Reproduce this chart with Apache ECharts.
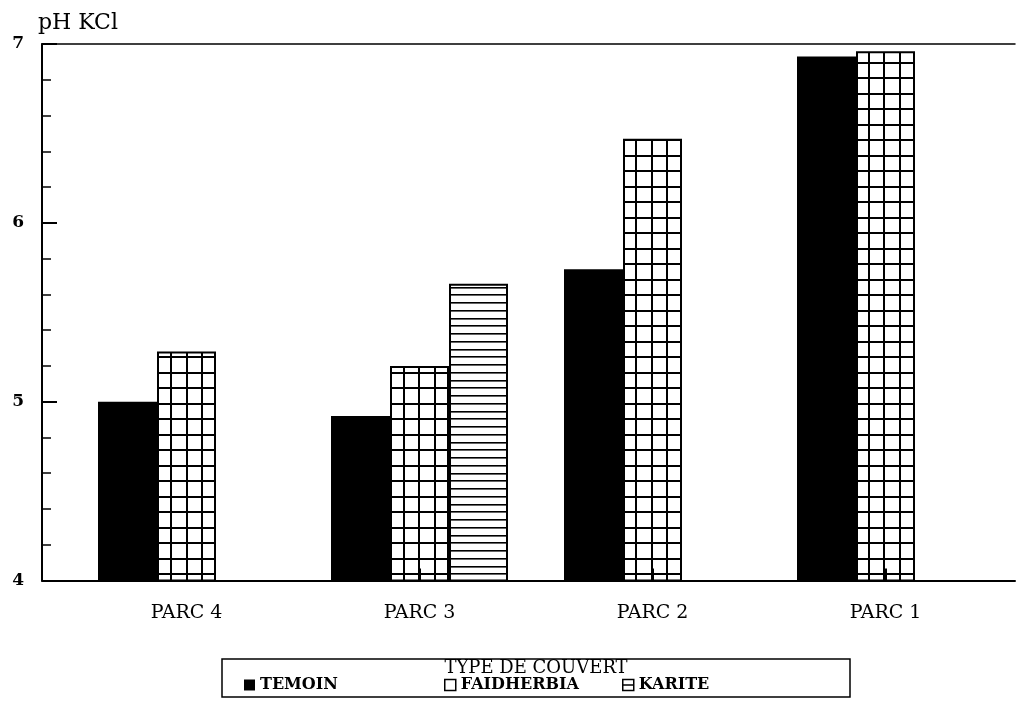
<!DOCTYPE html>
<html><head><meta charset="utf-8">
<script src="https://cdn.jsdelivr.net/npm/echarts@6/dist/echarts.min.js"></script>
<style>html,body{margin:0;padding:0;background:#fff}#c{width:1021px;height:724px}</style>
</head><body><div id="c"></div>
<script>
const categories = ['PARC 4', 'PARC 3', 'PARC 2', 'PARC 1'];
const temoin = [5.00, 4.92, 5.74, 6.93];
const faidherbia = [5.28, 5.20, 6.47, 6.96];
const karite = [null, 5.66, null, null];
const seriesNames = ['TEMOIN', 'FAIDHERBIA', 'KARITE'];
const yMin = 4, yMax = 7, yStep = 1;
const legendTitle = 'TYPE DE COUVERT';
const yName = 'pH KCl';

const FONT = 'DejaVu Serif';

function gridPattern() {
  const c = document.createElement('canvas');
  c.width = 31; c.height = 31;
  const g = c.getContext('2d');
  g.fillStyle = '#fff'; g.fillRect(0, 0, 31, 31);
  g.fillStyle = '#000';
  [0, 15].forEach(p => { g.fillRect(p, 0, 2, 31); g.fillRect(0, p, 31, 2); });
  return c;
}
function hatchPattern() {
  const c = document.createElement('canvas');
  c.width = 31; c.height = 31;
  const g = c.getContext('2d');
  g.fillStyle = '#fff'; g.fillRect(0, 0, 31, 31);
  g.fillStyle = '#000';
  [0, 8, 15, 23].forEach(p => { g.fillRect(0, p, 31, 1.6); });
  return c;
}

const chart = echarts.init(document.getElementById('c'), null, {renderer: 'canvas'});
const black = '#000';
const plotTop = 44, plotBottom = 143.5;

const legendText = {fontFamily: FONT, fontSize: 16, fontWeight: 'bold', color: black};

chart.setOption({
  backgroundColor: '#fff',
  animation: false,
  grid: [
    {left: 42, right: 6, top: plotTop, bottom: plotBottom},
    {left: 70, right: 19, top: plotTop, bottom: plotBottom}
  ],
  xAxis: [
    {gridIndex: 0, type: 'value', min: 0, max: 1, position: 'bottom',
     axisLine: {show: true, onZero: false, lineStyle: {color: black, width: 2}},
     axisTick: {show: false}, axisLabel: {show: false}, splitLine: {show: false}},
    {gridIndex: 0, type: 'value', min: 0, max: 1, position: 'top',
     axisLine: {show: true, onZero: false, lineStyle: {color: black, width: 1.5}},
     axisTick: {show: false}, axisLabel: {show: false}, splitLine: {show: false}},
    {gridIndex: 1, type: 'category', data: categories, position: 'bottom', z: 10,
     axisLine: {show: false},
     axisTick: {show: true, inside: true, alignWithLabel: true, length: 12, lineStyle: {color: black, width: 2}},
     axisLabel: {margin: 23, fontFamily: FONT, fontSize: 19, color: black},
     splitLine: {show: false}}
  ],
  yAxis: [
    {gridIndex: 0, type: 'value', min: yMin, max: yMax, interval: yStep,
     name: yName, nameLocation: 'end', nameGap: 10,
     nameTextStyle: {fontFamily: FONT, fontSize: 22, color: black, align: 'left', verticalAlign: 'bottom', padding: [0, 0, 0, -4]},
     axisLine: {show: true, onZero: false, lineStyle: {color: black, width: 2}},
     axisTick: {show: true, inside: true, length: 15, lineStyle: {color: black, width: 2}},
     minorTick: {show: true, splitNumber: 5, length: 9, lineStyle: {color: black, width: 1.5}},
     axisLabel: {margin: 18, fontFamily: FONT, fontSize: 17, fontWeight: 'bold', color: black},
     splitLine: {show: false}},
    {gridIndex: 1, type: 'value', min: yMin, max: yMax, show: false}
  ],
  legend: [
    {left: 244, top: 677, itemWidth: 11, itemHeight: 11, padding: 0, selectedMode: false,
     textStyle: legendText,
     data: [{name: seriesNames[0], icon: 'rect', itemStyle: {color: black, borderWidth: 0}}]},
    {left: 444, top: 677, itemWidth: 11, itemHeight: 11, padding: 0, selectedMode: false,
     textStyle: legendText,
     data: [{name: seriesNames[1], icon: 'rect', itemStyle: {color: '#fff', borderColor: black, borderWidth: 1.5}}]},
    {left: 622, top: 677, itemWidth: 11, itemHeight: 11, padding: 0, selectedMode: false,
     textStyle: legendText,
     data: [{name: seriesNames[2], icon: 'path://M0,0H10V10H0Z M0,5H10', itemStyle: {color: '#fff', borderColor: black, borderWidth: 1.5}}]}
  ],
  graphic: [
    {type: 'rect', shape: {x: 222, y: 659, width: 628, height: 38},
     style: {fill: null, stroke: black, lineWidth: 1.5}, silent: true},
    {type: 'text', x: 536, y: 668,
     style: {text: legendTitle, fontFamily: FONT, fontSize: 18, fill: black, align: 'center', verticalAlign: 'middle'}}
  ],
  series: [
    {name: seriesNames[0], type: 'bar', xAxisIndex: 2, yAxisIndex: 1, data: temoin,
     barWidth: 59, barGap: '0%', itemStyle: {color: black}},
    {name: seriesNames[1], type: 'bar', xAxisIndex: 2, yAxisIndex: 1, data: faidherbia,
     barWidth: 59, barGap: '0%',
     itemStyle: {color: {image: gridPattern(), repeat: 'repeat'}, borderColor: black, borderWidth: 2}},
    {name: seriesNames[2], type: 'bar', xAxisIndex: 2, yAxisIndex: 1, data: karite,
     barWidth: 59, barGap: '0%',
     itemStyle: {color: {image: hatchPattern(), repeat: 'repeat'}, borderColor: black, borderWidth: 2}}
  ]
});
</script>
</body></html>
